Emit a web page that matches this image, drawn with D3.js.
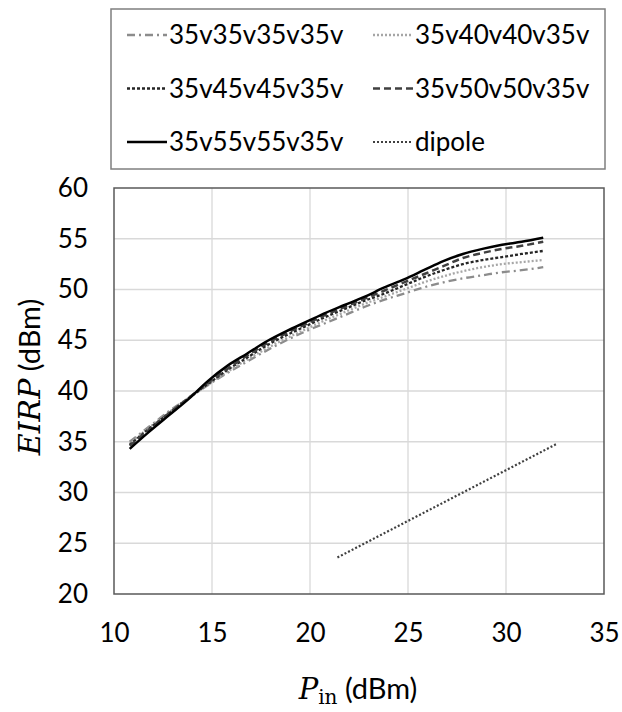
<!DOCTYPE html>
<html>
  <head>
    <meta charset="utf-8">
    <title>EIRP vs Pin</title>
    <script src="https://d3js.org/d3.v7.min.js"></script>
    <style>
      body { margin: 0; background: #fff; }
    </style>
  </head>
  <body>
    <div id="chart"></div>
    <script>
      // 資料
      const pin = [10.8, 11.8, 12.8, 13.8, 14.8, 15.8, 16.8, 17.8, 18.8, 19.8, 20.8,
                   21.8, 22.8, 23.8, 24.8, 25.8, 26.8, 27.8, 28.8, 29.8, 30.8, 31.9];
      const eirp35 = [35.0, 36.5, 38.0, 39.3, 40.6, 41.8, 42.9, 44.0, 45.0, 45.9, 46.7,
                      47.5, 48.3, 49.0, 49.6, 50.2, 50.7, 51.1, 51.4, 51.7, 51.9, 52.2];
      const eirp40 = [34.8, 36.4, 37.9, 39.3, 40.6, 41.9, 43.1, 44.2, 45.2, 46.1, 47.0,
                      47.8, 48.6, 49.3, 50.0, 50.7, 51.3, 51.8, 52.2, 52.5, 52.7, 52.9];
      const eirp45 = [34.7, 36.3, 37.8, 39.3, 40.7, 42.1, 43.3, 44.5, 45.5, 46.4, 47.3,
                      48.1, 48.9, 49.6, 50.4, 51.2, 51.9, 52.5, 52.9, 53.2, 53.5, 53.8];
      const eirp50 = [34.6, 36.2, 37.8, 39.3, 40.8, 42.2, 43.5, 44.7, 45.7, 46.6, 47.5,
                      48.3, 49.1, 49.9, 50.7, 51.5, 52.3, 53.1, 53.6, 54.0, 54.3, 54.7];
      const eirp55 = [34.3, 36.0, 37.6, 39.2, 41.0, 42.5, 43.7, 44.9, 45.9, 46.8, 47.7,
                      48.5, 49.3, 50.2, 51.0, 51.9, 52.8, 53.5, 54.0, 54.4, 54.7, 55.1];
      const dipolePin  = [21.4, 24.0, 27.0, 30.0, 32.6];
      const dipoleEirp = [23.6, 26.2, 29.2, 32.2, 34.8];
      const xTicks = [10, 15, 20, 25, 30, 35];
      const yTicks = [20, 25, 30, 35, 40, 45, 50, 55, 60];

      const width = 622, height = 712;
      const margin = {top: 188, right: 18, bottom: 118, left: 114};
      const sans = "Lato, 'Open Sans', sans-serif";
      const serif = "'DejaVu Serif', 'Liberation Serif', serif";

      const series = [
        {name: "35v35v35v35v", y: eirp35, x: pin, color: "#8c8c8c", dash: "8,4,2,4", w: 2.3},
        {name: "35v40v40v35v", y: eirp40, x: pin, color: "#a6a6a6", dash: "2,2", w: 2.3},
        {name: "35v45v45v35v", y: eirp45, x: pin, color: "#262626", dash: "3,2", w: 2.3},
        {name: "35v50v50v35v", y: eirp50, x: pin, color: "#404040", dash: "7,4", w: 2.5},
        {name: "35v55v55v35v", y: eirp55, x: pin, color: "#000000", dash: null, w: 2.5},
        {name: "dipole", y: dipoleEirp, x: dipolePin, color: "#404040", dash: "2,2", w: 2.2}
      ];

      const svg = d3.select("#chart")
                    .append("svg")
                    .attr("width", width)
                    .attr("height", height);

      const xScale = d3.scaleLinear()
                       .domain([10, 35])
                       .range([margin.left, width - margin.right]);
      const yScale = d3.scaleLinear()
                       .domain([20, 60])
                       .range([height - margin.bottom, margin.top]);

      // grid
      svg.append("g")
         .selectAll("line")
         .data(xTicks.slice(1, -1))
         .join("line")
         .attr("x1", d => xScale(d)).attr("x2", d => xScale(d))
         .attr("y1", yScale(20)).attr("y2", yScale(60))
         .attr("stroke", "#d9d9d9").attr("stroke-width", 1.3);
      svg.append("g")
         .selectAll("line")
         .data(yTicks.slice(1, -1))
         .join("line")
         .attr("x1", xScale(10)).attr("x2", xScale(35))
         .attr("y1", d => yScale(d)).attr("y2", d => yScale(d))
         .attr("stroke", "#d9d9d9").attr("stroke-width", 1.3);

      // 座標軸標籤
      const xAxis = svg.append("g")
                       .attr("transform", `translate(0, ${yScale(20)})`)
                       .call(d3.axisBottom(xScale).tickValues(xTicks).tickSize(0).tickPadding(30));
      xAxis.select(".domain").remove();
      xAxis.selectAll(".tick text")
           .attr("font-family", sans)
           .attr("font-size", 26)
           .attr("fill", "#000");

      const yAxis = svg.append("g")
                       .attr("transform", `translate(${margin.left}, 0)`)
                       .call(d3.axisLeft(yScale).tickValues(yTicks).tickSize(0).tickPadding(26));
      yAxis.select(".domain").remove();
      yAxis.selectAll(".tick text")
           .attr("font-family", sans)
           .attr("font-size", 26)
           .attr("fill", "#000");

      // lines
      const line = d3.line()
                     .curve(d3.curveMonotoneX)
                     .x(d => xScale(d[0]))
                     .y(d => yScale(d[1]));
      svg.append("g")
         .selectAll("path")
         .data(series)
         .join("path")
         .attr("d", s => line(s.x.map((v, i) => [v, s.y[i]])))
         .attr("fill", "none")
         .attr("stroke", s => s.color)
         .attr("stroke-width", s => s.w)
         .attr("stroke-dasharray", s => s.dash);

      // plot border
      svg.append("rect")
         .attr("x", xScale(10)).attr("y", yScale(60))
         .attr("width", xScale(35) - xScale(10))
         .attr("height", yScale(20) - yScale(60))
         .attr("fill", "none")
         .attr("stroke", "#595959")
         .attr("stroke-width", 1.5);

      // axis titles
      const xTitle = svg.append("text")
                        .attr("x", 358).attr("y", 699)
                        .attr("text-anchor", "middle")
                        .attr("font-family", sans)
                        .attr("font-size", 29);
      xTitle.append("tspan")
            .attr("font-family", serif)
            .attr("font-style", "italic")
            .attr("font-size", 29)
            .text("P");
      xTitle.append("tspan")
            .attr("font-family", serif)
            .attr("font-size", 20)
            .attr("dy", 5)
            .text("in");
      xTitle.append("tspan")
            .attr("dy", -5)
            .text(" (dBm)");

      const yTitle = svg.append("text")
                        .attr("transform", "translate(40, 377) rotate(-90)")
                        .attr("text-anchor", "middle")
                        .attr("font-family", sans)
                        .attr("font-size", 29);
      yTitle.append("tspan")
            .attr("font-family", serif)
            .attr("font-style", "italic")
            .attr("font-size", 30)
            .text("EIRP");
      yTitle.append("tspan")
            .text(" (dBm)");

      // legend
      svg.append("rect")
         .attr("x", 111).attr("y", 9)
         .attr("width", 494).attr("height", 160)
         .attr("fill", "#fff")
         .attr("stroke", "#7f7f7f")
         .attr("stroke-width", 1.5);
      const legend = svg.append("g")
                        .selectAll("g")
                        .data(series)
                        .join("g")
                        .attr("transform", (d, i) => `translate(${i % 2 ? 373 : 127}, ${35 + Math.floor(i / 2) * 53.5})`);
      legend.append("line")
            .attr("x1", 0).attr("x2", 40)
            .attr("stroke", d => d.color)
            .attr("stroke-width", d => d.w)
            .attr("stroke-dasharray", d => d.dash);
      legend.append("text")
            .attr("x", 42).attr("y", 9)
            .attr("font-family", sans)
            .attr("font-size", 26)
            .text(d => d.name);
    </script>
  </body>
</html>
